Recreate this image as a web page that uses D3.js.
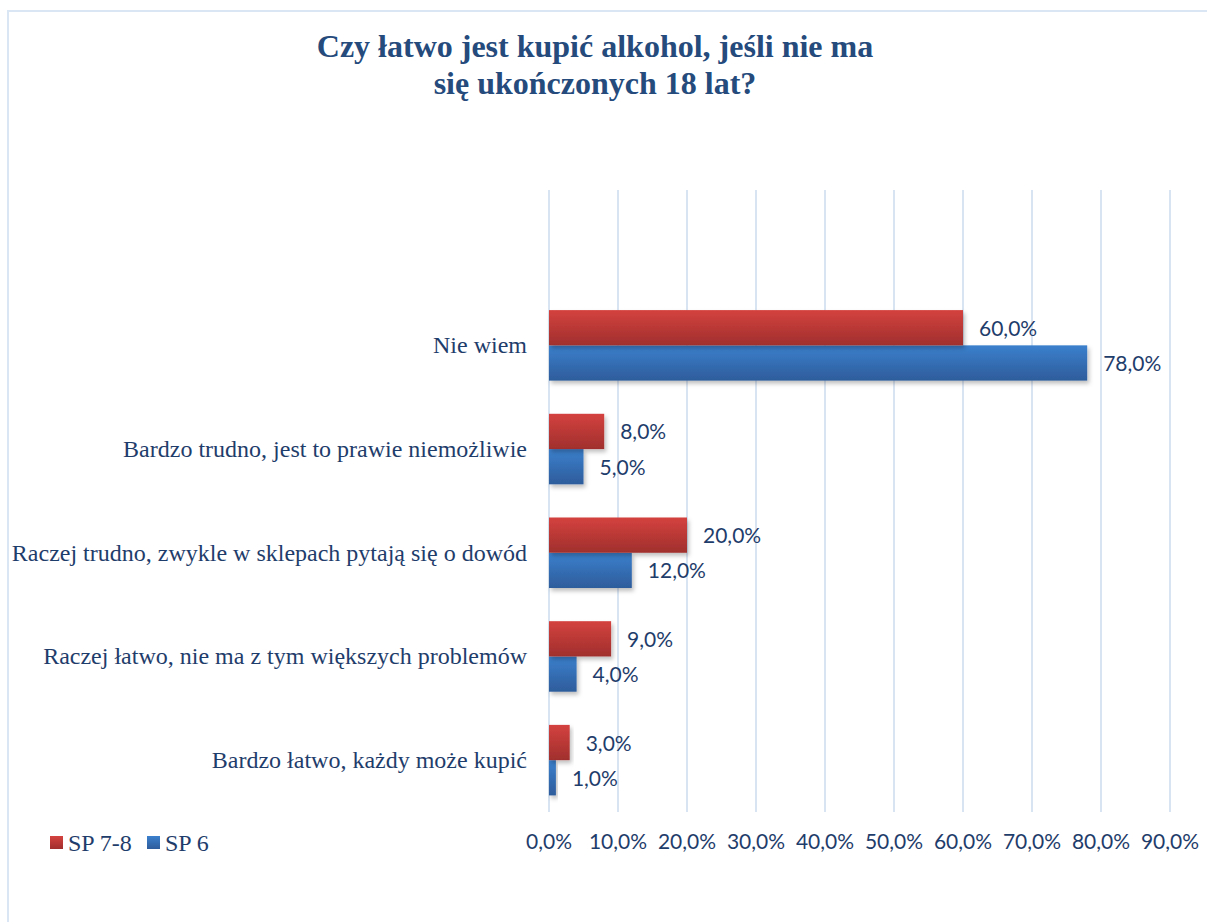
<!DOCTYPE html>
<html>
<head>
<meta charset="utf-8">
<script src="https://cdn.jsdelivr.net/npm/d3@7"></script>
<style>
    body { margin: 0; background: #fff; }
    .ch-title { font-family: 'Liberation Serif', serif; font-weight: bold; font-size: 32px; fill: #254a7c; }
    .ch-cat { font-family: 'Liberation Serif', serif; font-size: 24px; fill: #1f3d6b; }
    .ch-val, .ch-tick { font-family: Lato, 'Open Sans', sans-serif; font-size: 21px; fill: #1f3d6b; }
    .ch-legend { font-family: 'Liberation Serif', serif; font-size: 24px; fill: #1f3d6b; }
    .ch-grid { stroke: #d9e4f2; stroke-width: 2; }
</style>
</head>
<body>
<svg class="ch-svg"></svg>
<script>

const categories = [
    'Nie wiem',
    'Bardzo trudno, jest to prawie niemożliwie',
    'Raczej trudno, zwykle w sklepach pytają się o dowód',
    'Raczej łatwo, nie ma z tym większych problemów',
    'Bardzo łatwo, każdy może kupić'
]
const seriesNames = [ 'SP 7-8', 'SP 6' ]
const sp78 = [ 60, 8, 20, 9, 3 ]
const sp6 = [ 78, 5, 12, 4, 1 ]
const ticks = [ 0, 10, 20, 30, 40, 50, 60, 70, 80, 90 ]

const width = 1207
const height = 922

const svg = d3.select('.ch-svg')
    .attr('width', width)
    .attr('height', height)

const defs = svg.append('defs')

const grads = [
    { id: 'g-red', top: '#d4423f', bottom: '#a02f2d' },
    { id: 'g-blue', top: '#3b80cd', bottom: '#2e5c9b' }
]
grads.forEach(g => {
    const lg = defs.append('linearGradient')
        .attr('id', g.id)
        .attr('x1', 0).attr('y1', 0).attr('x2', 0).attr('y2', 1)
    lg.append('stop').attr('offset', '0%').attr('stop-color', g.top)
    lg.append('stop').attr('offset', '100%').attr('stop-color', g.bottom)
})

const shadow = defs.append('filter').attr('id', 'shadow')
    .attr('x', '-10%').attr('y', '-10%').attr('width', '130%').attr('height', '160%')
shadow.append('feDropShadow')
    .attr('dx', 2).attr('dy', 3).attr('stdDeviation', 2)
    .attr('flood-color', '#000').attr('flood-opacity', 0.25)

// frame
svg.append('rect')
    .attr('x', 8).attr('y', 11)
    .attr('width', width + 20).attr('height', height + 20)
    .attr('fill', 'none')
    .attr('stroke', '#dbe6f4')
    .attr('stroke-width', 2)

// title
svg.append('text')
    .attr('class', 'ch-title')
    .attr('text-anchor', 'middle')
    .selectAll('tspan')
    .data([ 'Czy łatwo jest kupić alkohol, jeśli nie ma', 'się ukończonych 18 lat?' ])
    .enter()
    .append('tspan')
    .attr('x', 595)
    .attr('y', (d, i) => 57 + i*37)
    .text(d => d)

const padding = { top: 190, bottom: 812, left: 549 }

const xScale = d3.scaleLinear()
    .domain([ 0, 90 ])
    .range([ padding.left, padding.left + 621 ])

const yScale = d3.scaleBand()
    .domain(categories)
    .range([ 293.5, padding.bottom ])
    .paddingInner(0.32)
    .paddingOuter(0.16)

const sub = d3.scaleBand()
    .domain(seriesNames)
    .range([ 0, yScale.bandwidth() ])

// grid
svg.selectAll('.ch-grid')
    .data(ticks)
    .enter()
    .append('line')
    .attr('class', 'ch-grid')
    .attr('x1', d => xScale(d))
    .attr('x2', d => xScale(d))
    .attr('y1', padding.top)
    .attr('y2', padding.bottom)

const fmt = v => d3.format('.1f')(v).replace('.', ',') + '%'

svg.selectAll('.ch-tick')
    .data(ticks)
    .enter()
    .append('text')
    .attr('class', 'ch-tick')
    .attr('x', d => xScale(d))
    .attr('y', 849)
    .attr('text-anchor', 'middle')
    .text(d => fmt(d))

// categories
svg.selectAll('.ch-cat')
    .data(categories)
    .enter()
    .append('text')
    .attr('class', 'ch-cat')
    .attr('x', 527)
    .attr('y', d => yScale(d) + yScale.bandwidth()/2 + 8)
    .attr('text-anchor', 'end')
    .text(d => d)

const series = [
    { name: seriesNames[0], values: sp78, fill: 'url(#g-red)' },
    { name: seriesNames[1], values: sp6, fill: 'url(#g-blue)' }
]

// blue first so red shadow sits over it like in the original
series.slice().reverse().forEach(s => {
    svg.selectAll(null)
        .data(s.values)
        .enter()
        .append('rect')
        .attr('x', xScale(0))
        .attr('y', (d, i) => yScale(categories[i]) + sub(s.name))
        .attr('width', d => xScale(d) - xScale(0))
        .attr('height', sub.bandwidth())
        .attr('fill', s.fill)
        .attr('filter', 'url(#shadow)')
})

series.forEach(s => {
    svg.selectAll(null)
        .data(s.values)
        .enter()
        .append('text')
        .attr('class', 'ch-val')
        .attr('x', d => xScale(d) + 16)
        .attr('y', (d, i) => yScale(categories[i]) + sub(s.name) + sub.bandwidth()/2 + 8)
        .text(d => fmt(d))
})

// legend
const legendX = [ 50, 147 ]
const lg = svg.selectAll('.ch-lg')
    .data(series)
    .enter()
    .append('g')
    .attr('transform', (d, i) => `translate(${legendX[i]}, 836)`)

lg.append('rect')
    .attr('width', 13)
    .attr('height', 13)
    .attr('fill', d => d.fill)

lg.append('text')
    .attr('class', 'ch-legend')
    .attr('x', 18)
    .attr('y', 15)
    .text(d => d.name)

</script>
</body>
</html>
